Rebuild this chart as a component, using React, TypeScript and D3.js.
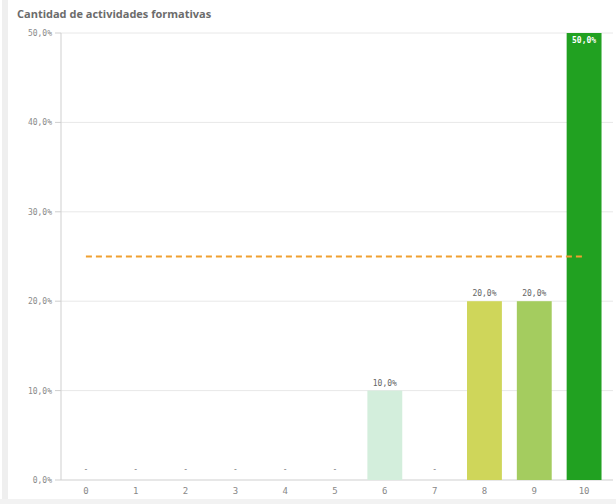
import React from "react";
import * as d3 from "d3";

const categories = ["0", "1", "2", "3", "4", "5", "6", "7", "8", "9", "10"];
const values = [0, 0, 0, 0, 0, 0, 10, 0, 20, 20, 50];
const barColors = ["#cccccc", "#cccccc", "#cccccc", "#cccccc", "#cccccc", "#cccccc", "#d3eedc", "#cfd65a", "#cfd65a", "#a4cc5f", "#21a121"];
const colorByCat: Record<string, string> = { "6": "#d3eedc", "8": "#cfd65a", "9": "#a4cc5f", "10": "#21a121" };
const yTicks = [0, 10, 20, 30, 40, 50];
const referenceValue = 25;
const title = "Cantidad de actividades formativas";

const W = 616, H = 504;
const left = 61, right = 609, top = 33, bottom = 480;

const fmt = (v: number) => v.toFixed(1).replace(".", ",") + "%";

export default function App() {
  const x = d3.scaleBand<string>().domain(categories).range([left, right]).paddingInner(0.3).paddingOuter(0.15);
  const y = d3.scaleLinear().domain([0, 50]).range([bottom, top]);
  const mono = "'DejaVu Sans Mono', monospace";
  return (
    <svg width={W} height={H} style={{ position: "absolute", left: 0, top: 0, background: "#fff" }}>
      <rect x={0} y={0} width={W} height={H} fill="#fff" />
      <rect x={2} y={0} width={6} height={H} fill="#efefef" />
      <rect x={0} y={499} width={W} height={5} fill="#f2f2f2" />
      <text x={17} y={18} fontFamily="'Open Sans', sans-serif" fontWeight={700} fontSize={11} fill="#6b6b6b">{title}</text>
      {yTicks.map((t) => (
        <g key={t}>
          <line x1={left} x2={right + 4} y1={y(t)} y2={y(t)} stroke={t === 0 ? "#cfcfcf" : "#e8e8e8"} strokeWidth={1} />
          <line x1={left - 6} x2={left} y1={y(t)} y2={y(t)} stroke="#cfcfcf" />
          <text x={left - 9} y={y(t) + 3} textAnchor="end" fontFamily={mono} fontSize={8} fill="#8a8a8a">{fmt(t)}</text>
        </g>
      ))}
      <line x1={left} x2={left} y1={top} y2={bottom} stroke="#cfcfcf" />
      {categories.map((c, i) => {
        const v = values[i];
        const bx = x(c)!;
        const bw = x.bandwidth();
        const cx = bx + bw / 2;
        return (
          <g key={c}>
            {v > 0 && (
              <rect x={bx} y={y(v)} width={bw} height={y(0) - y(v)} fill={colorByCat[c] || barColors[i]} />
            )}
            {v === 0 ? (
              <text x={cx} y={bottom - 8} textAnchor="middle" fontFamily={mono} fontSize={8} fill="#777">-</text>
            ) : v >= 50 ? (
              <text x={cx} y={y(v) + 10} textAnchor="middle" fontFamily={mono} fontWeight={700} fontSize={8} fill="#fff">{fmt(v)}</text>
            ) : (
              <text x={cx} y={y(v) - 5} textAnchor="middle" fontFamily={mono} fontSize={8} fill="#666">{fmt(v)}</text>
            )}
            <text x={cx} y={bottom + 14} textAnchor="middle" fontFamily={mono} fontSize={9} fill="#888">{c}</text>
          </g>
        );
      })}
      <line
        x1={x(categories[0])! + x.bandwidth() / 2}
        x2={x(categories[categories.length - 1])! + x.bandwidth() / 2}
        y1={y(referenceValue)}
        y2={y(referenceValue)}
        stroke="#f0a030"
        strokeWidth={2}
        strokeDasharray="6,4"
      />
    </svg>
  );
}
